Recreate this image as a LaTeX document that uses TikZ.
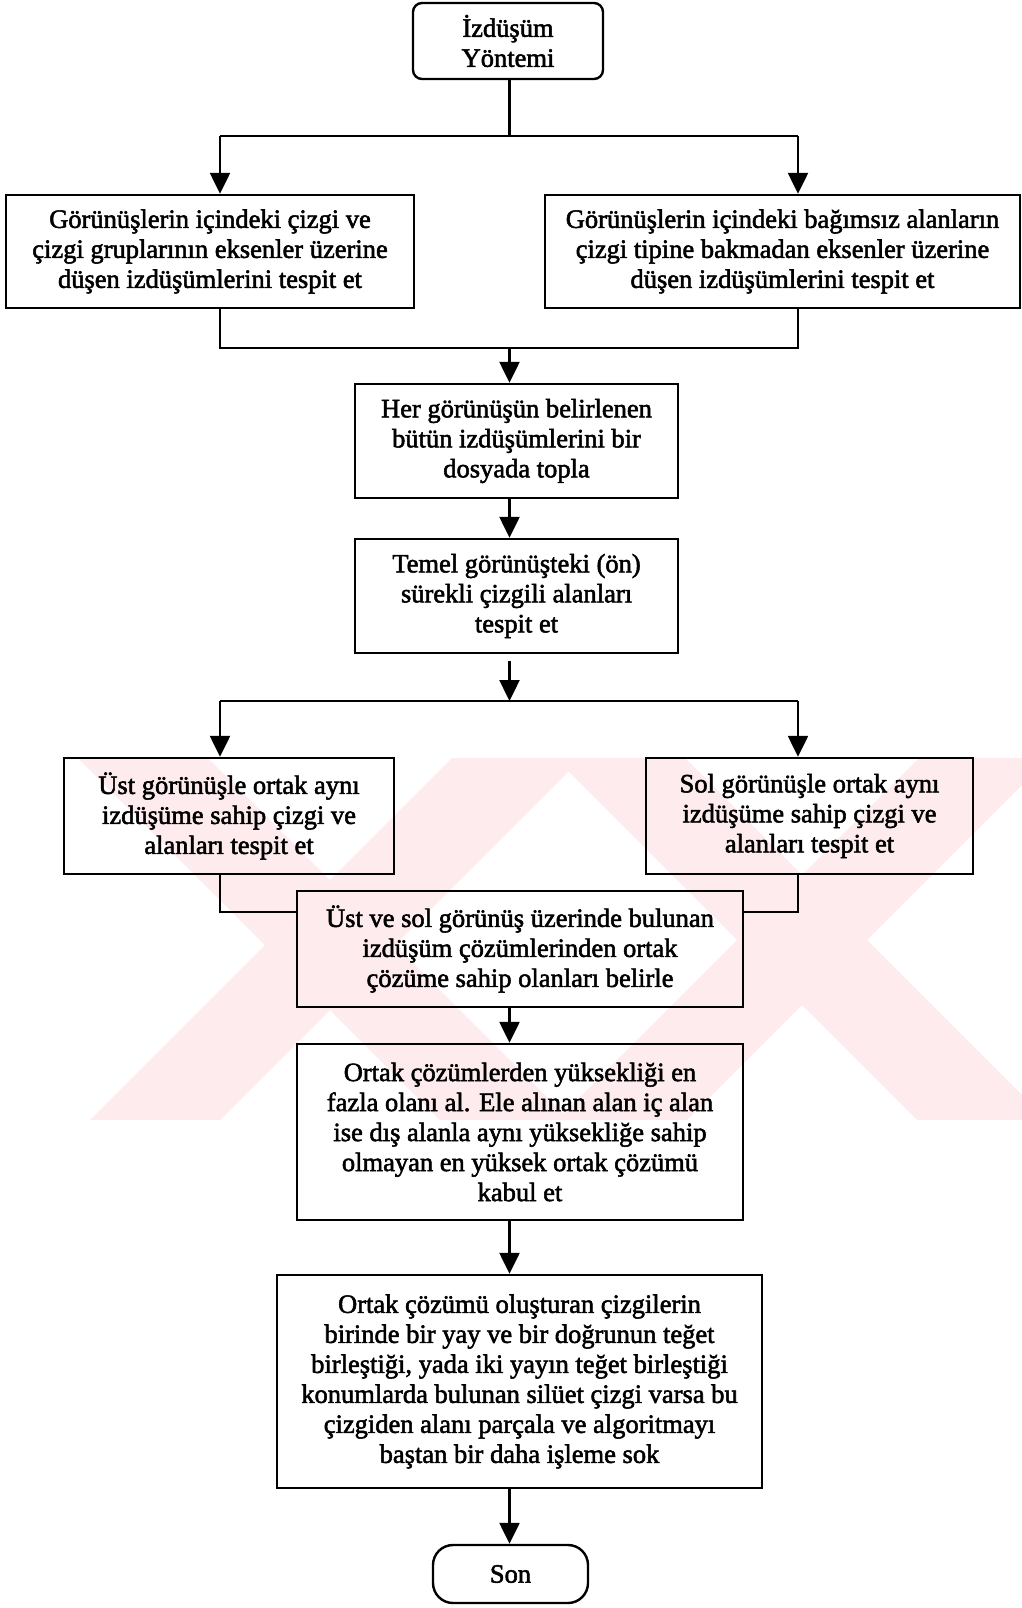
\documentclass[tikz,border=0pt]{standalone}
\usepackage{fontspec}
\setmainfont{Liberation Serif}
\newfontfamily\kutufont{Liberation Serif}[FakeBold=2]
\usepackage{tikz}
\usetikzlibrary{positioning,arrows.meta}
\definecolor{filigran}{RGB}{253,235,237}

\begin{document}
\begin{tikzpicture}[x=1pt, y=-1pt,
  kutu/.style={rectangle, draw, line width=2.4pt, align=center, inner sep=0pt,
    font=\kutufont\fontsize{26.5}{30}\selectfont},
  ok/.style={-{Triangle[length=21pt,width=20pt]}, line width=2.4pt},
  cizgi/.style={line width=2.4pt}]
  \useasboundingbox (0,0) rectangle (1022,1608);

  % Filigran
  \begin{scope}
    \clip (0,758) rectangle (1022,1120);
    \fill[filigran] (78,758) -- (208,758) -- (570,1120) -- (440,1120) -- cycle;
    \fill[filigran] (452,758) -- (582,758) -- (220,1120) -- (90,1120) -- cycle;
    \fill[filigran] (555,758) -- (685,758) -- (1047,1120) -- (917,1120) -- cycle;
    \fill[filigran] (919,758) -- (1049,758) -- (687,1120) -- (557,1120) -- cycle;
  \end{scope}

  % Baslangic
  \node[kutu, rounded corners=9pt, minimum width=190pt, minimum height=76pt] (baslangic) at (508,41) {İzdüşüm\\Yöntemi};

  % Izdusumler
  \node[kutu, minimum width=408pt, minimum height=113pt] (gorunusL) at (210,251.5)
    {Görünüşlerin  içindeki çizgi ve\\çizgi gruplarının eksenler üzerine\\düşen izdüşümlerini tespit et};
  \node[kutu, minimum width=475pt, minimum height=113pt] (gorunusR) at (782.5,251.5)
    {Görünüşlerin içindeki bağımsız alanların\\çizgi tipine  bakmadan eksenler üzerine\\düşen izdüşümlerini tespit et};

  % Dosya ve temel gorunus
  \node[kutu, minimum width=323pt, minimum height=114pt] (topla) at (516.5,441)
    {Her görünüşün belirlenen\\bütün izdüşümlerini bir\\dosyada topla};
  \node[kutu, minimum width=323pt, minimum height=114pt] (temel) at (516.5,596)
    {Temel görünüşteki (ön)\\sürekli çizgili  alanları\\tespit et};

  % Ust ve sol gorunus
  \node[kutu, minimum width=330pt, minimum height=116pt] (ust) at (229,816)
    {Üst görünüşle ortak aynı\\izdüşüme sahip çizgi ve\\alanları tespit et};
  \node[kutu, minimum width=327pt, minimum height=116pt] (sol) at (809.5,816)
    {Sol görünüşle ortak aynı\\izdüşüme sahip çizgi ve\\alanları tespit et};

  % Ortak cozumler
  \node[kutu, minimum width=446pt, minimum height=116pt] (ortak) at (520,949)
    {Üst ve sol görünüş üzerinde bulunan\\izdüşüm çözümlerinden ortak\\çözüme sahip olanları belirle};
  \node[kutu, minimum width=446pt, minimum height=176pt] (kabul) at (520,1132)
    {Ortak çözümlerden yüksekliği en\\fazla olanı al. Ele alınan alan iç alan\\ise dış alanla aynı yüksekliğe sahip\\olmayan en yüksek ortak çözümü\\kabul et};
  \node[kutu, minimum width=485pt, minimum height=213pt] (parcala) at (519.5,1381.5)
    {Ortak çözümü oluşturan çizgilerin\\birinde bir yay ve bir doğrunun teğet\\birleştiği, yada iki yayın teğet birleştiği\\konumlarda bulunan silüet çizgi varsa bu\\çizgiden alanı parçala ve algoritmayı\\baştan bir daha işleme sok};

  % Son
  \node[kutu, rounded corners=20pt, minimum width=155pt, minimum height=58pt] (son) at (510.5,1574) {Son};

  % Ayrim ve birlesme noktalari
  \coordinate (eksen) at (509.5,0);
  \coordinate (ayrim1) at (509.5,136);
  \coordinate (ayrim1L) at (220,136);
  \coordinate (ayrim1R) at (798,136);
  \coordinate (birles1) at (509.5,348);
  \coordinate (birles1L) at (220,348);
  \coordinate (birles1R) at (798,348);
  \coordinate (ayrim2) at (509.5,701);
  \coordinate (ayrim2L) at (220,701);
  \coordinate (ayrim2R) at (798,701);
  \coordinate (birles2L) at (220,912);
  \coordinate (birles2R) at (798,912);

  % Baglantilar
  \draw[cizgi] (baslangic.south -| ayrim1) -- (ayrim1);
  \draw[cizgi] (ayrim1L) -- (ayrim1R);
  \draw[ok] (ayrim1L) -- (ayrim1L |- gorunusL.north);
  \draw[ok] (ayrim1R) -- (ayrim1R |- gorunusR.north);
  \draw[cizgi] (birles1L |- gorunusL.south) -- (birles1L) -- (birles1R) -- (birles1R |- gorunusR.south);
  \draw[ok] (birles1) -- (birles1 |- topla.north);
  \draw[ok] (topla.south -| eksen) -- (temel.north -| eksen);
  \draw[ok, shorten <=7pt] (temel.south -| eksen) -- (ayrim2);
  \draw[cizgi] (ayrim2L) -- (ayrim2R);
  \draw[ok] (ayrim2L) -- (ayrim2L |- ust.north);
  \draw[ok] (ayrim2R) -- (ayrim2R |- sol.north);
  \draw[cizgi] (birles2L |- ust.south) -- (birles2L) -- (ortak.west |- birles2L);
  \draw[cizgi] (birles2R |- sol.south) -- (birles2R) -- (ortak.east |- birles2R);
  \draw[ok] (ortak.south -| eksen) -- (kabul.north -| eksen);
  \draw[ok] (kabul.south -| eksen) -- (parcala.north -| eksen);
  \draw[ok] (parcala.south -| eksen) -- (son.north -| eksen);
\end{tikzpicture}
\end{document}
